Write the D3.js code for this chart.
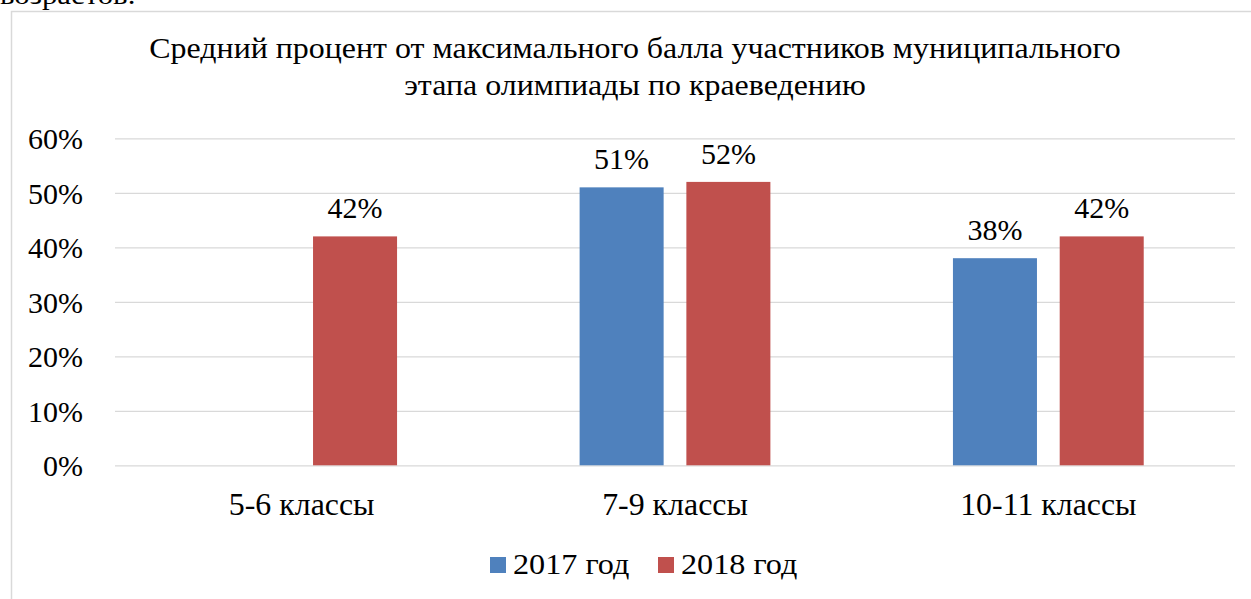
<!DOCTYPE html>
<html>
<head>
<meta charset="utf-8">
<script src="https://cdn.jsdelivr.net/npm/d3@7"></script>
<style>
  body { margin: 0; background: #fff; }
  svg { display: block; font-family: "Liberation Serif", "Times New Roman", serif; }
</style>
</head>
<body>
<svg width="1251" height="599"></svg>
<script>
const categories = ['5-6 классы', '7-9 классы', '10-11 классы'];
const series = ['2017 год', '2018 год'];
const values2017 = [null, 0.51, 0.38];
const values2018 = [0.42, 0.52, 0.42];
const yTicks = [0, 0.1, 0.2, 0.3, 0.4, 0.5, 0.6];
const colors = ['#4f81bd', '#c0504d'];
const titleLines = ['Средний процент от максимального балла участников муниципального',
                    'этапа олимпиады по краеведению'];

const svg = d3.select('svg');
const width  = +svg.attr('width');
const height = +svg.attr('height');
const serif = '"Liberation Serif", "Times New Roman", serif';

// widen text a bit, the source font runs wider than Liberation Serif
function stretch(sel, k) {
  sel.each(function() {
    const w = this.getComputedTextLength();
    d3.select(this).attr('textLength', w * k).attr('lengthAdjust', 'spacingAndGlyphs');
  });
}

// text of the document above the chart, cut off by the crop
svg.append('text')
    .attr('x', 0).attr('y', 4)
    .attr('font-size', 28)
    .text('возрастов.')
    .call(stretch, 1.1);

// chart frame (right and bottom edges lie outside the picture)
svg.append('rect')
    .attr('x', 11.5).attr('y', 11.5)
    .attr('width', width + 20).attr('height', height + 20)
    .attr('fill', 'none')
    .attr('stroke', '#d9d9d9')
    .attr('stroke-width', 1.5);

// title
svg.append('g').selectAll('text').data(titleLines)
  .enter().append('text')
    .attr('x', 635)
    .attr('y', (d, i) => 58 + i * 37)
    .attr('text-anchor', 'middle')
    .attr('font-size', 28.5)
    .text(d => d)
    .call(stretch, 1.12);

const plot = {left: 115, right: 1235, top: 138.3, bottom: 465.3};

const x0 = d3.scaleBand()
    .domain(categories)
    .range([plot.left, plot.right])
    .paddingInner(0.489)
    .paddingOuter(0.2445);

const x1 = d3.scaleBand()
    .domain(series)
    .range([0, x0.bandwidth()])
    .paddingInner(0.213);

const y = d3.scaleLinear()
    .domain([0, 0.6])
    .range([plot.bottom, plot.top]);

// gridlines + y labels
const yAxis = d3.axisLeft(y)
    .tickValues(yTicks)
    .tickFormat(d3.format('.0%'))
    .tickSize(-(plot.right - plot.left))
    .tickPadding(32);

const gy = svg.append('g')
    .attr('transform', `translate(${plot.left},0)`)
    .call(yAxis);
gy.select('.domain').remove();
gy.selectAll('.tick line').attr('stroke', '#d9d9d9').attr('stroke-width', 1.3);
gy.selectAll('.tick text')
    .attr('font-family', serif)
    .attr('font-size', 30)
    .attr('fill', '#000')
    .attr('dy', '0.34em');

// x labels
const xAxis = d3.axisBottom(x0).tickSize(0).tickPadding(0);
const gx = svg.append('g')
    .attr('transform', `translate(0,${plot.bottom})`)
    .call(xAxis);
gx.select('.domain').remove();
gx.selectAll('.tick text')
    .attr('font-family', serif)
    .attr('font-size', 30.5)
    .attr('fill', '#000')
    .attr('dy', 0)
    .attr('y', 50)
    .call(stretch, 1.045);

// bars
const rows = [];
categories.forEach((c, i) => {
  if (values2017[i] != null) rows.push({cat: c, s: series[0], v: values2017[i], color: colors[0]});
  if (values2018[i] != null) rows.push({cat: c, s: series[1], v: values2018[i], color: colors[1]});
});

const bars = svg.append('g').selectAll('g').data(rows)
  .enter().append('g');

bars.append('rect')
    .attr('x', d => x0(d.cat) + x1(d.s))
    .attr('y', d => y(d.v))
    .attr('width', x1.bandwidth())
    .attr('height', d => y(0) - y(d.v))
    .attr('fill', d => d.color);

bars.append('text')
    .attr('x', d => x0(d.cat) + x1(d.s) + x1.bandwidth() / 2)
    .attr('y', d => y(d.v) - 18)
    .attr('text-anchor', 'middle')
    .attr('font-size', 30)
    .text(d => d3.format('.0%')(d.v));

// legend
const legendX = [490, 658];
const legend = svg.append('g').selectAll('g').data(series)
  .enter().append('g')
    .attr('transform', (d, i) => `translate(${legendX[i]},557)`);
legend.append('rect')
    .attr('width', 16).attr('height', 16)
    .attr('fill', (d, i) => colors[i]);
legend.append('text')
    .attr('x', 23).attr('y', 17)
    .attr('font-size', 29)
    .text(d => d)
    .call(stretch, 1.11);
</script>
</body>
</html>
